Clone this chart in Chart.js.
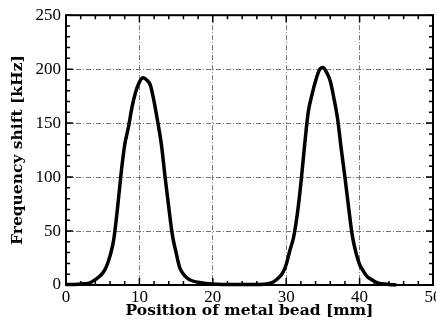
<!DOCTYPE html>
<html>
<head>
<meta charset="utf-8">
<script src="https://cdn.jsdelivr.net/npm/chart.js@4"></script>
<style>
  html, body { margin: 0; padding: 0; background: #fff; overflow: hidden; }
  #wrap { width: 436px; height: 328px; overflow: hidden; }
  canvas { display: block; }
</style>
</head>
<body>
<div id="wrap"><canvas id="beadChart" width="460" height="328"></canvas></div>
<script>
// ========== Data ==========
const positions = [0, 1, 2, 3, 4, 5, 5.5, 6, 6.5, 7, 7.5, 8, 8.5, 9, 9.5, 10, 10.5, 11, 11.5, 12,
  12.5, 13, 13.5, 14, 14.5, 15, 15.5, 16, 16.5, 17, 18, 19, 20, 22, 24, 26,
  27, 27.5, 28, 28.5, 29, 29.5, 30, 30.5, 31, 31.5, 32, 32.5, 33, 33.5, 34, 34.5, 35, 35.5,
  36, 36.5, 37, 37.5, 38, 38.5, 39, 39.5, 40, 40.5, 41, 41.5, 42, 42.5, 43, 44, 45];
const freqShift = [0.5, 0.5, 1, 1.5, 5, 11, 17, 27, 42, 70, 103, 130, 146, 165, 179, 188, 192, 190, 185, 170,
  151, 130, 100, 72, 46, 30, 16, 10, 6.5, 4.4, 2.5, 1.5, 1, 0.5, 0.5, 0.5,
  0.8, 1.2, 2, 4, 7, 11, 19, 32, 44, 65, 94, 129, 160, 176, 189, 199, 201.5, 197,
  189, 173, 154, 126, 100, 72, 46, 30, 19, 13, 8, 5.5, 3.5, 2, 1.2, 0.5, 0];

const xTicks = [0, 10, 20, 30, 40, 50];
const yTicks = [0, 50, 100, 150, 200, 250];
const xMinor = [0, 2, 4, 6, 8, 10, 12, 14, 16, 18, 20, 22, 24, 26, 28, 30, 32, 34, 36, 38, 40, 42, 44, 46, 48, 50];
const yMinor = [0, 10, 20, 30, 40, 50, 60, 70, 80, 90, 100, 110, 120, 130, 140, 150, 160, 170, 180, 190, 200, 210, 220, 230, 240, 250];

const tickFont = { family: "'Liberation Serif', serif", size: 17 };
const titleFont = { family: "'DejaVu Serif', serif", size: 15.5, weight: "bold" };

// ========== Frame + inward tick marks ==========
const frameTicks = {
  id: "frameTicks",
  afterDatasetsDraw(chart) {
    const { ctx, chartArea: a, scales: { x, y } } = chart;
    ctx.save();
    ctx.strokeStyle = "#000";
    ctx.lineWidth = 1.5;
    ctx.beginPath();
    xMinor.forEach((v) => {
      const px = x.getPixelForValue(v);
      const len = xTicks.includes(v) ? 7 : 4;
      ctx.moveTo(px, a.bottom); ctx.lineTo(px, a.bottom - len);
      ctx.moveTo(px, a.top); ctx.lineTo(px, a.top + len);
    });
    yMinor.forEach((v) => {
      const py = y.getPixelForValue(v);
      const len = yTicks.includes(v) ? 7 : 4;
      ctx.moveTo(a.left, py); ctx.lineTo(a.left + len, py);
      ctx.moveTo(a.right, py); ctx.lineTo(a.right - len, py);
    });
    ctx.stroke();
    ctx.lineWidth = 2;
    ctx.strokeRect(a.left, a.top, a.right - a.left, a.bottom - a.top);
    ctx.restore();
  },
};

const gridColor = (c) =>
  c.tick && (c.tick.value === c.scale.min || c.tick.value === c.scale.max) ? "rgba(0,0,0,0)" : "#777";

// ========== Chart ==========
new Chart(document.getElementById("beadChart"), {
  type: "line",
  data: {
    datasets: [{
      data: positions.map((p, i) => ({ x: p, y: freqShift[i] })),
      borderColor: "#000",
      borderWidth: 3.5,
      pointRadius: 0,
      cubicInterpolationMode: "monotone",
      fill: false,
      clip: 4,
    }],
  },
  options: {
    responsive: false,
    animation: false,
    layout: { padding: { top: 11, right: 27, bottom: 0, left: 0 } },
    plugins: { legend: { display: false }, tooltip: { enabled: false } },
    scales: {
      x: {
        type: "linear",
        min: 0,
        max: 50,
        afterBuildTicks: (s) => { s.ticks = xTicks.map((v) => ({ value: v })); },
        afterFit: (s) => { s.height = 43; },
        ticks: { color: "#000", font: tickFont, padding: 2, maxRotation: 0 },
        grid: { color: gridColor, lineWidth: 1, drawTicks: false },
        border: { display: false, dash: [5, 2, 1, 2] },
        title: {
          display: true,
          text: "Position of metal bead [mm]",
          color: "#000",
          font: titleFont,
          padding: { top: 0, bottom: 8 },
        },
      },
      y: {
        min: 0,
        max: 250,
        afterBuildTicks: (s) => { s.ticks = yTicks.map((v) => ({ value: v })); },
        afterFit: (s) => { s.width = 66; },
        ticks: { color: "#000", font: tickFont, padding: 5 },
        grid: { color: gridColor, lineWidth: 1, drawTicks: false },
        border: { display: false, dash: [5, 2, 1, 2] },
        title: {
          display: true,
          text: "Frequency shift [kHz]",
          color: "#000",
          font: titleFont,
          padding: { top: 9, bottom: 0 },
        },
      },
    },
  },
  plugins: [frameTicks],
});
</script>
</body>
</html>
